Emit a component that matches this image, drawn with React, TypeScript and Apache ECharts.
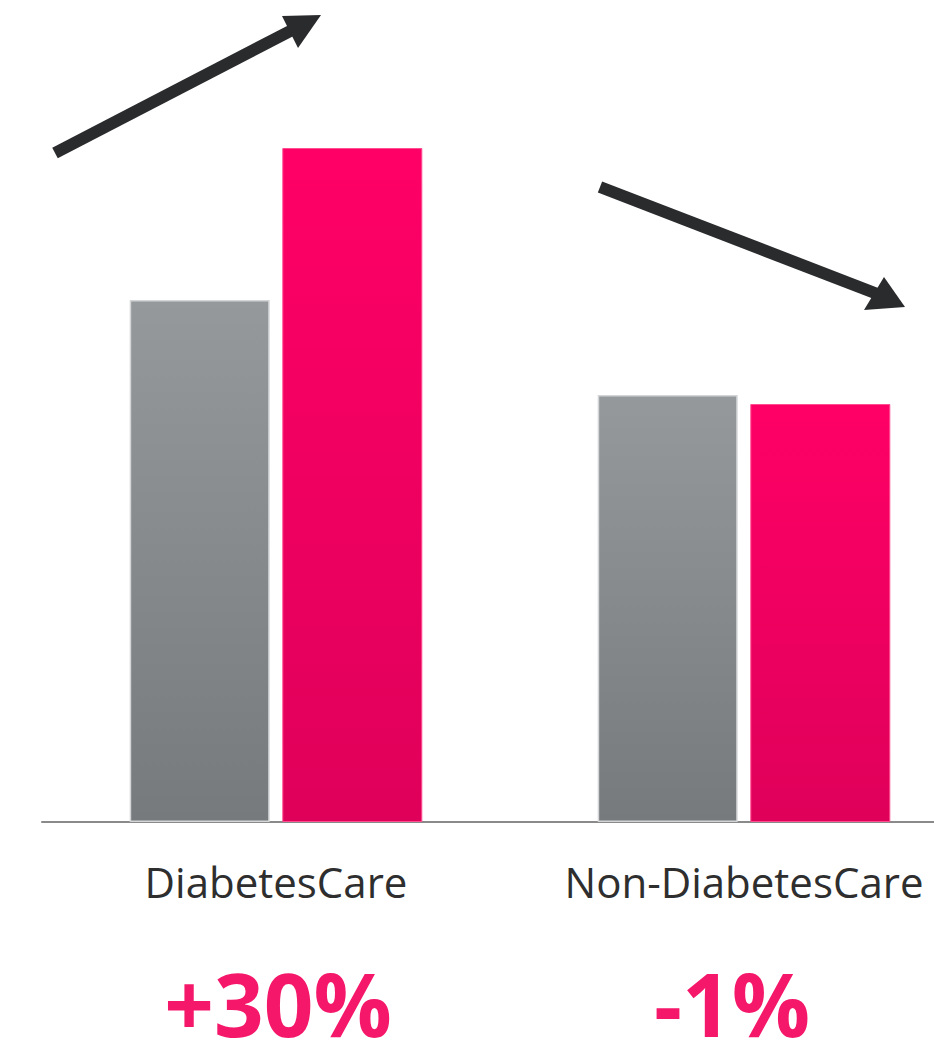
import React, { useEffect, useRef } from "react";
import * as echarts from "echarts";

const categories = ["DiabetesCare", "Non-DiabetesCare"];
const previousValues = [52.2, 42.7];
const currentValues = [67.4, 41.8];
const changeLabels = ["+30%", "-1%"];

export default function App() {
  const ref = useRef<HTMLDivElement>(null);
  useEffect(() => {
    if (!ref.current) return;
    const chart = echarts.init(ref.current, undefined, { renderer: "svg" });
    const grayGrad = new echarts.graphic.LinearGradient(0, 0, 0, 1, [
      { offset: 0, color: "#95999c" },
      { offset: 1, color: "#777a7d" },
    ]);
    const pinkGrad = new echarts.graphic.LinearGradient(0, 0, 0, 1, [
      { offset: 0, color: "#ff0066" },
      { offset: 1, color: "#df005a" },
    ]);
    chart.setOption({
      animation: false,
      grid: { left: 42, right: 0, top: 0, bottom: 224, containLabel: false },
      xAxis: {
        type: "category",
        data: categories,
        axisLine: { lineStyle: { color: "#8a8a8a", width: 2 } },
        axisTick: { show: false },
        axisLabel: {
          interval: 0,
          margin: 38,
          fontSize: 42,
          fontFamily: "Open Sans",
          fontWeight: 400,
          color: "#2e2e2e",
        },
      },
      yAxis: { type: "value", min: 0, max: 82.2, show: false, splitLine: { show: false } },
      series: [
        {
          type: "bar",
          data: previousValues,
          barWidth: 140,
          barGap: "9%",
          itemStyle: { color: grayGrad, borderColor: "#d3d5d6", borderWidth: 1.5 },
        },
        {
          type: "bar",
          data: currentValues,
          barWidth: 140,
          itemStyle: { color: pinkGrad, borderColor: "#ff4d90", borderWidth: 1 },
        },
      ],
      graphic: [
        { type: "line", shape: { x1: 55, y1: 153, x2: 300, y2: 26 }, style: { stroke: "#2a2b2d", lineWidth: 12 } },
        { type: "polygon", shape: { points: [[282, 16], [321, 15], [298, 48]] }, style: { fill: "#2a2b2d" } },
        { type: "line", shape: { x1: 600, y1: 187, x2: 880, y2: 295 }, style: { stroke: "#2a2b2d", lineWidth: 12 } },
        { type: "polygon", shape: { points: [[884, 277], [905, 307], [864, 310]] }, style: { fill: "#2a2b2d" } },
        ...changeLabels.map((t, i) => ({
          type: "text",
          x: i === 0 ? 278 : 732,
          y: 1003,
          style: {
            text: t,
            fill: "#f5186a",
            font: "bold 87px 'Open Sans'",
            lineHeight: 64,
            textAlign: "center",
            textVerticalAlign: "middle",
          },
        })),
      ],
    });
    return () => chart.dispose();
  }, []);
  return (
    <div style={{ width: 934, height: 1046, position: "absolute", left: 0, top: 0, overflow: "hidden" }}>
      <div ref={ref} style={{ width: 978, height: 1046 }} />
    </div>
  );
}
